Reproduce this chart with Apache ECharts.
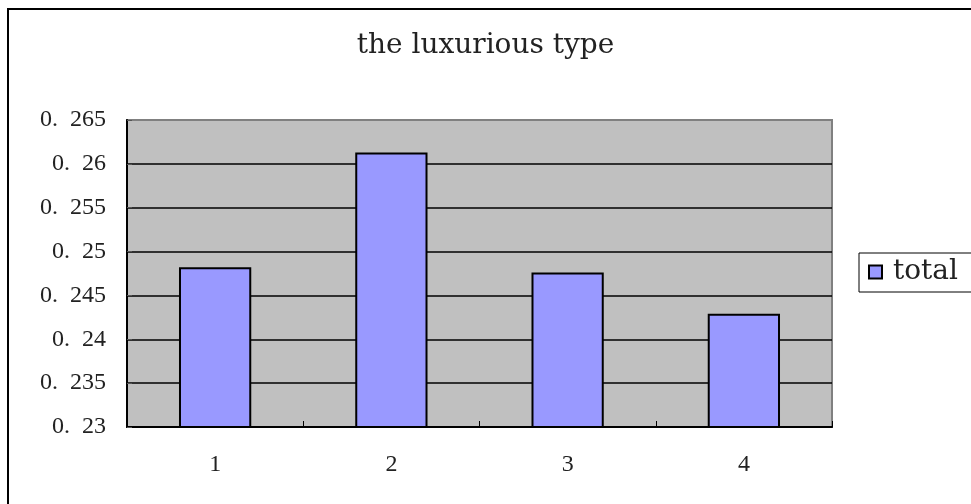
<!DOCTYPE html>
<html>
<head>
<meta charset="utf-8">
<script src="https://cdn.jsdelivr.net/npm/echarts@6/dist/echarts.min.js"></script>
<style>html,body{margin:0;padding:0;background:#fff;}#c{width:971px;height:504px;}</style>
</head>
<body>
<div id="c"></div>
<script>
var categories = ['1', '2', '3', '4'];
var totalValues = [0.2482, 0.2613, 0.2476, 0.2429];
var seriesName = 'total';
var titleText = 'the luxurious type';
var yMin = 0.23, yMax = 0.265, yStep = 0.005;

var NUMFONT = '"Liberation Serif", serif';
var TXTFONT = '"DejaVu Serif", serif';
var chart = echarts.init(document.getElementById('c'));
chart.setOption({
  animation: false,
  backgroundColor: '#fff',
  title: {
    text: titleText, left: 'center', top: 27,
    textStyle: { fontFamily: TXTFONT, fontSize: 28, fontWeight: 'normal', color: '#222' }
  },
  graphic: [{
    type: 'rect', shape: { x: 8, y: 9, width: 1100, height: 700 },
    style: { fill: 'none', stroke: '#000', lineWidth: 2 }, z: 100
  }],
  legend: {
    left: 859, top: 253, orient: 'vertical',
    data: [seriesName],
    icon: 'rect', itemWidth: 13, itemHeight: 13, itemGap: 0,
    padding: [5, 30, 6, 9],
    borderColor: '#000', borderWidth: 1, backgroundColor: '#fff',
    textStyle: { fontFamily: TXTFONT, fontSize: 28, color: '#222', padding: [0, 0, 0, 6] }
  },
  grid: {
    left: 127, top: 120, right: 139, bottom: 77,
    show: true, backgroundColor: '#c0c0c0', borderColor: '#808080', borderWidth: 2
  },
  xAxis: {
    type: 'category', data: categories,
    axisLine: { lineStyle: { color: '#000', width: 2 } },
    axisTick: { show: true, inside: true, length: 6, lineStyle: { color: '#000' } },
    axisLabel: { margin: 26, fontFamily: NUMFONT, fontSize: 24, color: '#222' },
    splitLine: { show: false }
  },
  yAxis: {
    type: 'value', min: yMin, max: yMax, interval: yStep,
    axisLine: { show: true, lineStyle: { color: '#000', width: 2 } },
    axisTick: { show: true, inside: true, length: 5, lineStyle: { color: '#555' } },
    axisLabel: {
      margin: 21, fontFamily: NUMFONT, fontSize: 24, color: '#222',
      formatter: function (v) {
        var s = String(Math.round(v * 1000) / 1000);
        return s.replace('.', '.\u2002');
      }
    },
    splitLine: {
      show: true,
      lineStyle: { color: ['#000', '#000', '#000', '#000', '#000', '#000', '#000', '#808080'], width: 1.5 }
    }
  },
  series: [{
    name: seriesName, type: 'bar', data: totalValues, barWidth: '41%',
    itemStyle: { color: '#9999ff', borderColor: '#000', borderWidth: 2 }
  }]
});
</script>
</body>
</html>
